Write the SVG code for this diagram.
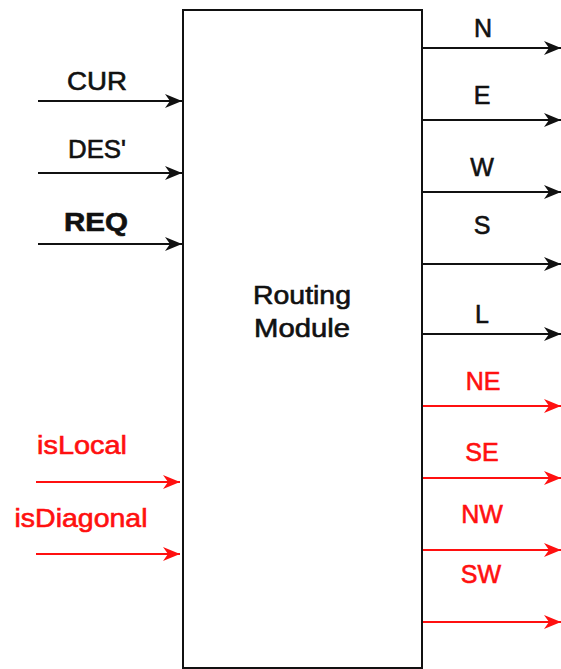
<svg xmlns="http://www.w3.org/2000/svg" width="561" height="669" viewBox="0 0 561 669">
<style>
text{font-family:"Liberation Sans",Arial,sans-serif;font-size:25px;text-anchor:middle;stroke-width:0.6}
.k{fill:#111;stroke:#111}
.r{fill:#ff1010;stroke:#ff1010}
.lk{stroke:#111;stroke-width:2.2;fill:none}
.lr{stroke:#ff1010;stroke-width:2.2;fill:none}
</style>
<defs>
<marker id="ak" viewBox="0 0 17 14" refX="17" refY="7" markerWidth="17" markerHeight="14" markerUnits="userSpaceOnUse" orient="auto">
<path d="M0,0 L17,7 L0,14 L5,7 Z" fill="#111"/>
</marker>
<marker id="ar" viewBox="0 0 17 14" refX="17" refY="7" markerWidth="17" markerHeight="14" markerUnits="userSpaceOnUse" orient="auto">
<path d="M0,0 L17,7 L0,14 L5,7 Z" fill="#ff1010"/>
</marker>
</defs>
<g id="routing-module">
<rect x="183" y="10" width="239" height="658" fill="#fff" stroke="#111" stroke-width="2"/>
<text class="k" x="302" y="304" textLength="98" lengthAdjust="spacingAndGlyphs">Routing</text>
<text class="k" x="302" y="337" textLength="96" lengthAdjust="spacingAndGlyphs">Module</text>
</g>
<g id="connectors">
<line class="lk" x1="38" y1="101" x2="182" y2="101" marker-end="url(#ak)"/>
<line class="lk" x1="38" y1="173" x2="182" y2="173" marker-end="url(#ak)"/>
<line class="lk" x1="38" y1="244" x2="182" y2="244" marker-end="url(#ak)"/>
<line class="lr" x1="36" y1="482" x2="180" y2="482" marker-end="url(#ar)"/>
<line class="lr" x1="36" y1="554" x2="180" y2="554" marker-end="url(#ar)"/>
<line class="lk" x1="423" y1="48" x2="561" y2="48" marker-end="url(#ak)"/>
<line class="lk" x1="423" y1="120" x2="561" y2="120" marker-end="url(#ak)"/>
<line class="lk" x1="423" y1="192" x2="561" y2="192" marker-end="url(#ak)"/>
<line class="lk" x1="423" y1="264" x2="561" y2="264" marker-end="url(#ak)"/>
<line class="lk" x1="423" y1="334" x2="561" y2="334" marker-end="url(#ak)"/>
<line class="lr" x1="423" y1="406" x2="561" y2="406" marker-end="url(#ar)"/>
<line class="lr" x1="423" y1="478" x2="561" y2="478" marker-end="url(#ar)"/>
<line class="lr" x1="423" y1="550" x2="561" y2="550" marker-end="url(#ar)"/>
<line class="lr" x1="423" y1="622" x2="561" y2="622" marker-end="url(#ar)"/>
</g>
<g id="labels">
<text class="k" x="97" y="90" textLength="60" lengthAdjust="spacingAndGlyphs">CUR</text>
<text class="k" x="97" y="158" textLength="58" lengthAdjust="spacingAndGlyphs">DES'</text>
<text class="k" x="96" y="231" font-weight="bold" stroke-width="0.3" textLength="64" lengthAdjust="spacingAndGlyphs">REQ</text>
<text class="r" x="82" y="454" textLength="90" lengthAdjust="spacingAndGlyphs">isLocal</text>
<text class="r" x="81" y="527" textLength="133" lengthAdjust="spacingAndGlyphs">isDiagonal</text>
<text class="k" x="483" y="37">N</text>
<text class="k" x="482" y="104">E</text>
<text class="k" x="482" y="176">W</text>
<text class="k" x="482" y="234">S</text>
<text class="k" x="482" y="323">L</text>
<text class="r" x="483" y="390">NE</text>
<text class="r" x="482" y="461">SE</text>
<text class="r" x="482" y="523">NW</text>
<text class="r" x="481" y="583">SW</text>
</g>
</svg>
